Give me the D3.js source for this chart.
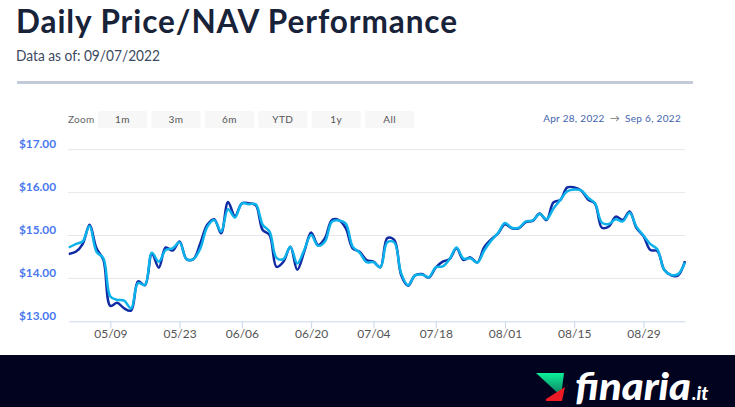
<!DOCTYPE html>
<html><head><meta charset="utf-8">
<script src="https://d3js.org/d3.v7.min.js"></script>
<style>html,body{margin:0;padding:0;background:#fff}svg{display:block}text{font-family:Lato,sans-serif}</style>
</head><body><svg id="c" width="735" height="407"></svg>
<script>
const tradingDays = ["04/29",
"05/02","05/03","05/04","05/05","05/06","05/09","05/10","05/11","05/12","05/13","05/16","05/17","05/18","05/19","05/20","05/23","05/24","05/25","05/26","05/27","05/31",
"06/01","06/02","06/03","06/06","06/07","06/08","06/09","06/10","06/13","06/14","06/15","06/16","06/17","06/21","06/22","06/23","06/24","06/27","06/28","06/29","06/30",
"07/01","07/05","07/06","07/07","07/08","07/11","07/12","07/13","07/14","07/15","07/18","07/19","07/20","07/21","07/22","07/25","07/26","07/27","07/28","07/29",
"08/01","08/02","08/03","08/04","08/05","08/08","08/09","08/10","08/11","08/12","08/15","08/16","08/17","08/18","08/19","08/22","08/23","08/24","08/25","08/26","08/29","08/30","08/31",
"09/01","09/02","09/06","09/07"];
const priceValues = [14.57,14.62,14.80,15.25,14.70,14.43,13.36,13.43,13.30,13.25,13.93,13.84,14.58,14.25,14.72,14.65,14.86,14.45,14.45,14.82,15.25,15.38,15.05,15.78,15.45,
15.75,15.75,15.71,15.13,15.01,14.27,14.39,14.74,14.20,14.62,15.07,14.78,14.94,15.36,15.36,15.17,14.70,14.62,14.43,14.39,14.26,14.94,14.90,14.08,13.83,14.07,14.10,14.02,14.25,14.39,14.45,14.70,14.43,14.49,
14.37,14.73,14.91,15.05,15.26,15.17,15.17,15.31,15.34,15.51,15.36,15.77,15.83,16.12,16.12,16.05,15.84,15.74,15.18,15.21,15.44,15.36,15.56,15.17,14.99,14.66,14.64,14.20,14.07,14.07,14.40];
const navValues = [14.72,14.80,14.86,15.22,14.62,14.47,13.58,13.50,13.48,13.30,13.89,13.85,14.60,14.39,14.66,14.70,14.84,14.45,14.45,14.70,15.20,15.36,15.09,15.61,15.42,
15.75,15.73,15.73,15.25,15.09,14.48,14.45,14.74,14.35,14.66,15.01,14.76,14.86,15.32,15.35,15.28,14.74,14.60,14.38,14.38,14.26,14.84,14.84,14.12,13.84,14.07,14.09,14.03,14.26,14.28,14.45,14.72,14.46,14.47,
14.37,14.65,14.88,15.06,15.29,15.18,15.18,15.33,15.35,15.50,15.38,15.63,15.83,16.03,16.07,16.05,15.88,15.75,15.30,15.27,15.38,15.33,15.53,15.20,15.00,14.80,14.68,14.20,14.08,14.10,14.37];
const yTicks = [13,14,15,16,17];
const xTickDays = ["05/09","05/23","06/06","06/21","07/05","07/18","08/01","08/15","08/29"];
const xTickLabels = ["05/09","05/23","06/06","06/20","07/04","07/18","08/01","08/15","08/29"];
const zoomButtons = ["1m","3m","6m","YTD","1y","All"];

const svg = d3.select("#c");
const x = d3.scalePoint().domain(tradingDays).range([68.8,685]);
const y = d3.scaleLinear().domain([13,17]).range([321.3,149.7]);

svg.append("text").attr("x",16).attr("y",33).attr("font-size",31.5).attr("font-weight",700).attr("fill","#18233a")
  .attr("textLength",441).attr("lengthAdjust","spacing").text("Daily Price/NAV Performance");
svg.append("text").attr("x",16).attr("y",61).attr("font-size",14.5).attr("fill","#3d4a5f")
  .attr("textLength",144).attr("lengthAdjust","spacingAndGlyphs").text("Data as of: 09/07/2022");
svg.append("rect").attr("x",17).attr("y",81).attr("width",676).attr("height",3).attr("fill","#c3cbd9");

// range selector
svg.append("text").attr("x",68).attr("y",123).attr("font-size",10).attr("letter-spacing",0.3).attr("fill","#666").text("Zoom");
const bw = d3.scaleBand().domain(zoomButtons).range([98,414.2]).paddingInner(0.08).paddingOuter(0).align(0);
const btn = svg.append("g").selectAll("g").data(zoomButtons).join("g");
btn.append("rect").attr("x",d=>bw(d)).attr("y",111).attr("width",bw.bandwidth()).attr("height",17).attr("rx",2).attr("fill","#f7f7f7");
btn.append("text").attr("x",d=>bw(d)+bw.bandwidth()/2).attr("y",123).attr("text-anchor","middle").attr("font-size",10).attr("letter-spacing",0.5).attr("fill","#555").text(d=>d);

const rl = svg.append("text").attr("x",681).attr("y",122).attr("text-anchor","end").attr("font-size",10).attr("letter-spacing",0.3).attr("fill","#3f62ad");
rl.append("tspan").text("Apr 28, 2022");
rl.append("tspan").attr("dx",5).attr("fill","#777").text("→");
rl.append("tspan").attr("dx",5).text("Sep 6, 2022");

// grid
svg.append("g").selectAll("line").data(yTicks.filter(d=>d>13)).join("line")
  .attr("x1",68).attr("x2",685).attr("y1",d=>y(d)).attr("y2",d=>y(d)).attr("stroke","#e6e6ec").attr("stroke-width",1);
svg.append("g").selectAll("text").data(yTicks).join("text")
  .attr("x",56).attr("y",d=>y(d)-1.5).attr("text-anchor","end").attr("font-size",11.8).attr("font-weight",700).attr("fill","#4a78f0")
  .text(d=>"$"+d.toFixed(2));

// x axis
const ax = d3.axisBottom(x).tickValues(xTickDays).tickFormat(d=>xTickLabels[xTickDays.indexOf(d)]).tickSize(7).tickSizeOuter(0);
const gx = svg.append("g").attr("transform","translate(0,321.3)").call(ax);
gx.select(".domain").attr("stroke","#ccd6eb");
gx.selectAll(".tick line").attr("stroke","#ccd6eb");
gx.selectAll(".tick text").attr("font-family","Lato,sans-serif").attr("font-size",12).attr("fill","#555").attr("dy","0.4em").attr("y",12);

// lines
const line = d3.line().x((d,i)=>x(tradingDays[i])).y(d=>y(d)).curve(d3.curveCatmullRom.alpha(0.5));
svg.append("path").attr("d",line(priceValues)).attr("fill","none").attr("stroke","#0f2aa3").attr("stroke-width",2.5);
svg.append("path").attr("d",line(navValues)).attr("fill","none").attr("stroke","#0db2ea").attr("stroke-width",2.5);

// footer
svg.append("rect").attr("x",0).attr("y",355).attr("width",735).attr("height",52).attr("fill","#01031f");
const defs = svg.append("defs");
const g1 = defs.append("linearGradient").attr("id","lg").attr("x1",0).attr("y1",0).attr("x2",0).attr("y2",1);
g1.append("stop").attr("offset","0").attr("stop-color","#0bf09a");
g1.append("stop").attr("offset","1").attr("stop-color","#12785f");
svg.append("polygon").attr("points","536,373 564,373 561,396").attr("fill","url(#lg)");
svg.append("polygon").attr("points","565,387 562,401 546,401 546,399").attr("fill","#ef1b24");
svg.append("text").attr("x",575).attr("y",400).attr("font-size",37).attr("font-weight",900).attr("font-style","italic").attr("fill","#fff").attr("textLength",116).attr("lengthAdjust","spacingAndGlyphs").text("finaria");
svg.append("text").attr("x",692).attr("y",400).attr("font-size",19).attr("font-weight",900).attr("font-style","italic").attr("fill","#fff").text(".it");
</script></body></html>
